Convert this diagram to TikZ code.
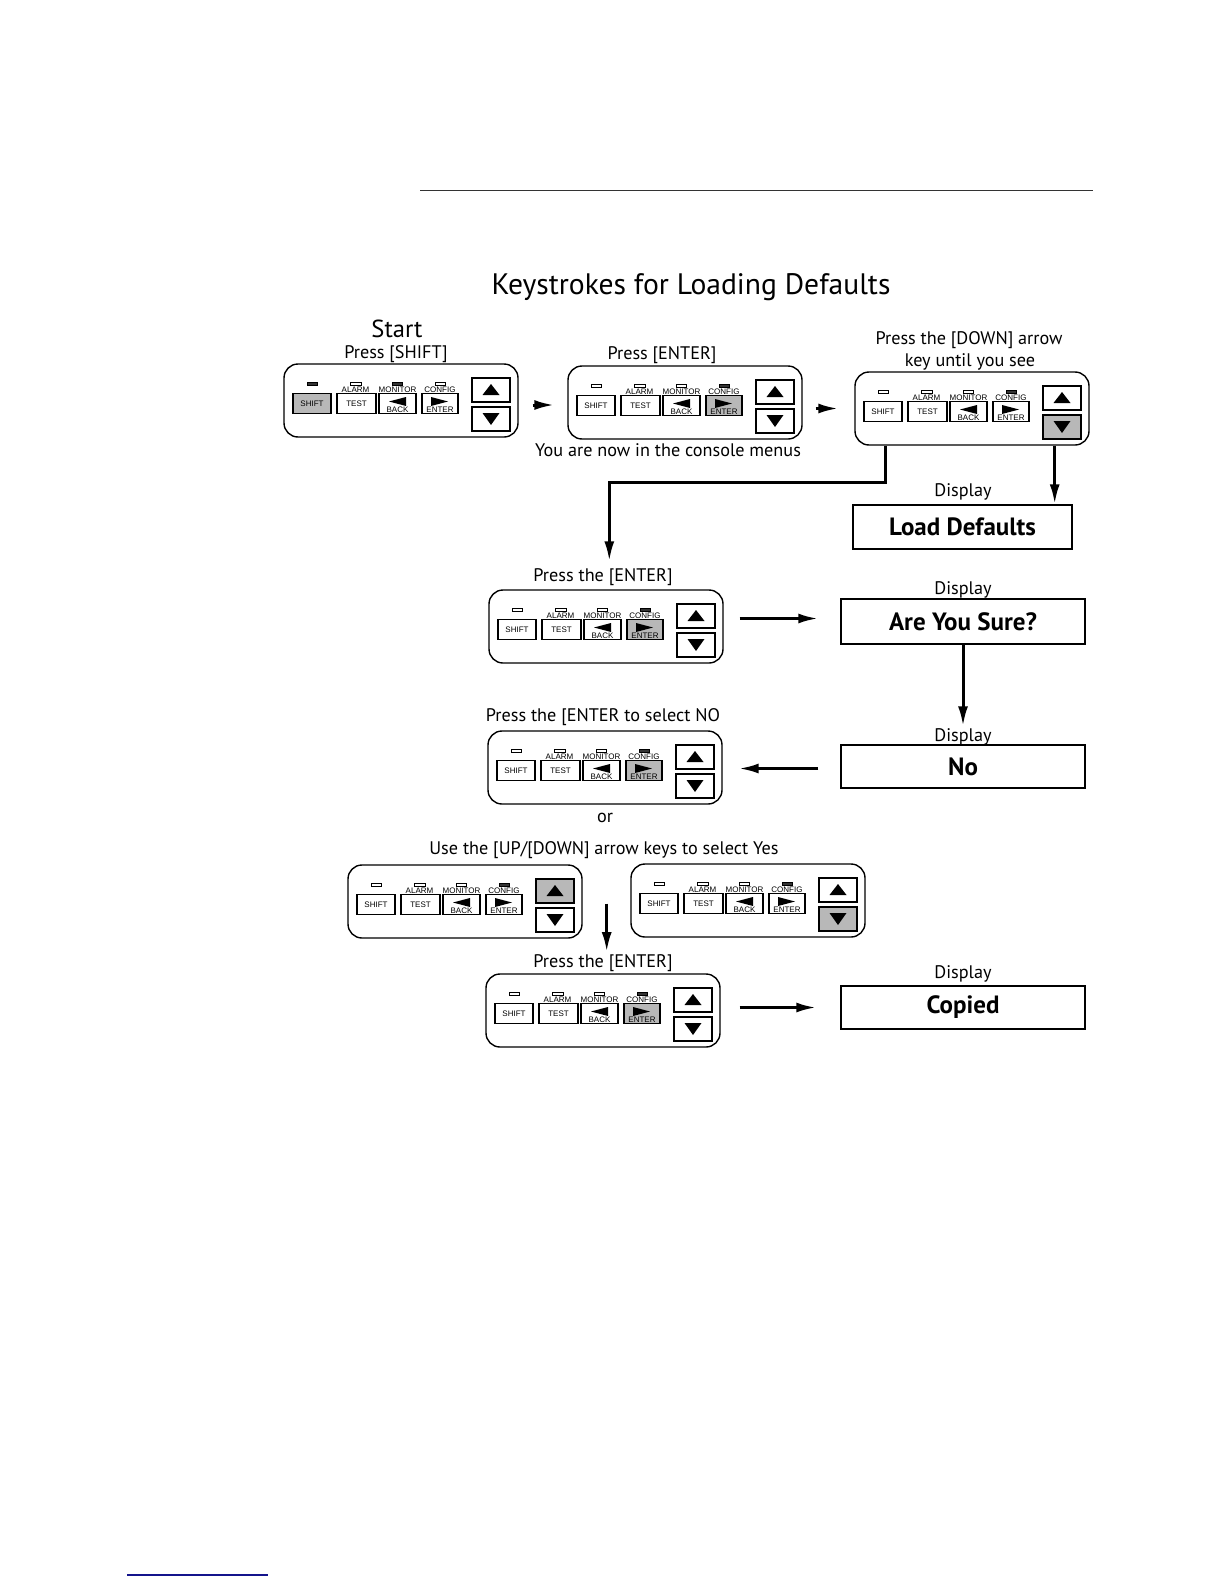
\documentclass[tikz,border=0pt]{standalone}
\usepackage{fontspec}
\setmainfont{PT Sans}
\newfontfamily\keyfont{Liberation Sans}
\usetikzlibrary{arrows.meta,calc}
\definecolor{keygray}{gray}{0.72}
\definecolor{ledcol}{gray}{0.2}
\definecolor{linkblue}{RGB}{20,20,140}
\tikzset{
  kpbox/.style={draw, line width=0.7pt, rounded corners=7pt, minimum width=117pt, minimum height=36.5pt, inner sep=0pt},
  kkey/.style={draw, line width=0.6pt, fill=white, inner sep=0pt, font=\keyfont\fontsize{4}{4}\selectfont},
  ledon/.style={draw, line width=0.4pt, fill=ledcol},
  ledoff/.style={draw, line width=0.4pt, fill=white},
  prshift/.style={}, prenter/.style={}, prup/.style={}, prdown/.style={},
  klabel/.style={font=\keyfont\fontsize{4}{4}\selectfont, inner sep=0pt},
  tri/.style={fill=black},
  lbl/.style={font=\fontsize{9.1}{10}\selectfont, inner sep=0pt},
  ttl/.style={font=\fontsize{14.8}{16}\selectfont, inner sep=0pt},
  sttl/.style={font=\fontsize{12.3}{14}\selectfont, inner sep=0pt},
  disp/.style={draw, line width=0.75pt, inner sep=0pt, font=\bfseries\fontsize{12.5}{14}\selectfont},
  flow/.style={line width=1.5pt, -{Latex[length=10pt,width=5pt]}},
}
\newcommand{\keypad}[8]{%
  \node[kpbox] (#1) at (#2+117,#3+36.5) {};
  \begin{scope}[shift={(#2,#3)}, pr#8/.style={fill=keygray}]
    \draw[led#4] (23,18) rectangle (33,21);
    \draw[led#5] (66,18) rectangle (77,21);
    \draw[led#6] (108,18) rectangle (118,21);
    \draw[led#7] (151,18) rectangle (161,21);
    \node[klabel] (#1-al) at (71.5,25.8) {ALARM};
    \node[klabel] (#1-mo) at (113.5,25.8) {MONITOR};
    \node[klabel] (#1-co) at (156,25.8) {CONFIG};
    \node[kkey, prshift, minimum width=19pt, minimum height=10pt] (#1-shift) at (28,39.5) {SHIFT};
    \node[kkey, minimum width=19.5pt, minimum height=10pt] (#1-test) at (72.5,39.5) {TEST};
    \node[kkey, minimum width=18.5pt, minimum height=10pt] (#1-back) at (113.5,39.5) {};
    \node[kkey, prenter, minimum width=18pt, minimum height=10pt] (#1-enter) at (156,39.5) {};
    \node[kkey, prup, minimum width=19pt, minimum height=12pt] (#1-up) at (207,26) {};
    \node[kkey, prdown, minimum width=19pt, minimum height=12pt] (#1-down) at (207,55) {};
    \fill[tri] (105,37.5) -- (122,33) -- (122,42) -- cycle;
    \fill[tri] (147,33) -- (164,37.5) -- (147,42) -- cycle;
    \fill[tri] (198.5,31) -- (215.5,31) -- (207,20) -- cycle;
    \fill[tri] (198.5,49) -- (215.5,49) -- (207,61) -- cycle;
    \node[klabel] (#1-bk) at (113.5,46) {BACK};
    \node[klabel] (#1-en) at (156,46) {ENTER};
  \end{scope}
}
\begin{document}
\begin{tikzpicture}[x=0.5pt,y=-0.5pt]
\useasboundingbox (0,0) rectangle (1224,1584);
\draw[line width=0.5pt, black!80] (420,190) coordinate (r1) -- (1093,190) coordinate (r2);
\draw[line width=1pt, linkblue] (127,1575) coordinate (b1) -- (268,1575) coordinate (b2);

\node[ttl] (title) at (691,287) {Keystrokes for Loading Defaults};
\node[sttl] (start) at (397,329) {Start};
\node[lbl] (t1) at (396,354) {Press [SHIFT]};
\node[lbl] (t2) at (662,355) {Press [ENTER]};
\node[lbl] (t3a) at (969,340) {Press the [DOWN] arrow};
\node[lbl] (t3b) at (970,362) {key until you see};
\node[lbl] (t2b) at (668,450) {You are now in the console menus};
\node[lbl] (t4) at (603,577) {Press the [ENTER]};
\node[lbl] (t5) at (603,717) {Press the [ENTER to select NO};
\node[lbl] (tor) at (605,818) {or};
\node[lbl] (t6) at (604,850) {Use the [UP/[DOWN] arrow keys to select Yes};
\node[lbl] (t8) at (603,963) {Press the [ENTER]};

\keypad{k1}{284}{364}{on}{off}{on}{off}{shift}
\keypad{k2}{568}{366}{off}{off}{off}{on}{enter}
\keypad{k3}{855}{372}{off}{off}{off}{on}{down}
\keypad{k4}{489}{590}{off}{off}{off}{on}{enter}
\keypad{k5}{488}{731}{off}{off}{off}{on}{enter}
\keypad{k6}{348}{865}{off}{off}{off}{on}{up}
\keypad{k7}{631}{864}{off}{off}{off}{on}{down}
\keypad{k8}{486}{974}{off}{off}{off}{on}{enter}

\node[lbl] (d1) at (963,492) {Display};
\node[disp, minimum width=109.5pt, minimum height=22pt] (ld) at (962.5,527) {Load Defaults};
\node[lbl] (d2) at (963,590) {Display};
\node[disp, minimum width=122pt, minimum height=22.5pt] (ays) at (963,621.5) {Are You Sure?};
\node[lbl] (d3) at (963,737) {Display};
\node[disp, minimum width=122pt, minimum height=21.5pt] (no) at (963,766.5) {No};
\node[lbl] (d4) at (963,974) {Display};
\node[disp, minimum width=122pt, minimum height=21.5pt] (cop) at (963,1007.5) {Copied};

\draw[flow] ($(k1.east)+(14,4.5)$) -- ($(k2.west)+(-13,2.5)$);
\draw[flow] ($(k2.east)+(13,6)$) -- ($(k3.west)+(-16,0)$);
\draw[flow] ($(k3.south west)+(31,0)$) -- ++(0,37) -| ($(k4.north west)+(121,-28)$);
\coordinate (k3r) at ($(k3.south east)+(-35,0)$);
\draw[flow] (k3r) -- (k3r |- ld.north);
\draw[flow] ($(k4.east |- ays.west)+(16,-3)$) -- ($(ays.west)+(-22,-3)$);
\draw[flow] (ays.south) -- ($(no.north)+(0,-18)$);
\draw[flow] ($(no.west)+(-22,2)$) -- ($(k5.east |- no.west)+(16,2)$);
\coordinate (yy) at ($(k6.east)+(24,2)$);
\draw[flow] (yy) -- ($(yy |- t8.north)+(0,-2)$);
\draw[flow] ($(k8.east |- cop.west)+(19,0)$) -- ($(cop.west)+(-24,0)$);
\end{tikzpicture}
\end{document}
